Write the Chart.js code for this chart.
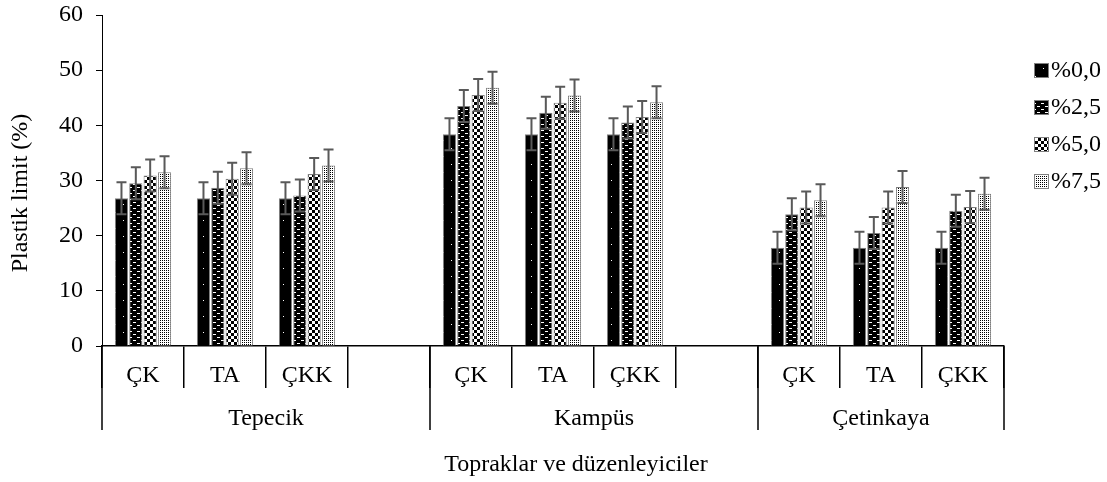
<!DOCTYPE html>
<html>
<head>
<meta charset="utf-8">
<script src="https://cdn.jsdelivr.net/npm/chart.js@4"></script>
<style>
  html, body { margin: 0; padding: 0; background: #fff; }
  #wrap { width: 1107px; height: 482px; }
</style>
</head>
<body>
<div id="wrap"><canvas id="plChart"></canvas></div>
<script>
// --- data ---
const subLabels = ["ÇK", "TA", "ÇKK", "", "ÇK", "TA", "ÇKK", "", "ÇK", "TA", "ÇKK"];
const groupNames = ["Tepecik", "Kampüs", "Çetinkaya"];
const groupSpans = [4, 4, 3];
const seriesNames = ["%0,0", "%2,5", "%5,0", "%7,5"];
const pl00 = [26.8, 26.8, 26.8, null, 38.4, 38.4, 38.4, null, 17.8, 17.8, 17.8];
const pl25 = [29.5, 28.7, 27.3, null, 43.5, 42.3, 40.5, null, 23.9, 20.5, 24.5];
const pl50 = [30.9, 30.3, 31.2, null, 45.5, 44.1, 41.5, null, 25.1, 25.1, 25.2];
const pl75 = [31.5, 32.2, 32.7, null, 46.8, 45.4, 44.2, null, 26.4, 28.8, 27.6];
const errBar = [2.9, 2.9, 2.9, null, 2.9, 2.9, 2.9, null, 2.9, 2.9, 2.9];
const yMin = 0, yMax = 60, yStep = 10;

const FONT = "'Liberation Serif', 'Times New Roman', serif";

// --- fill patterns ---
function makePattern(kind) {
  const c = document.createElement("canvas");
  const ctx = c.getContext("2d");
  if (kind === 0) {
    c.width = 16; c.height = 16;
    ctx.fillStyle = "#000"; ctx.fillRect(0, 0, 16, 16);
    ctx.fillStyle = "#fff";
    ctx.fillRect(3, 4, 1, 1);
    ctx.fillRect(11, 12, 1, 1);
  } else if (kind === 1) {
    c.width = 8; c.height = 6;
    ctx.fillStyle = "#000"; ctx.fillRect(0, 0, 8, 6);
    ctx.fillStyle = "#fff";
    ctx.fillRect(1, 1, 3, 1);
    ctx.fillRect(5, 4, 3, 1);
  } else if (kind === 2) {
    c.width = 6; c.height = 6;
    ctx.fillStyle = "#fff"; ctx.fillRect(0, 0, 6, 6);
    ctx.fillStyle = "#000";
    ctx.fillRect(0, 0, 3, 3);
    ctx.fillRect(3, 3, 3, 3);
  } else {
    c.width = 4; c.height = 4;
    ctx.fillStyle = "#fff"; ctx.fillRect(0, 0, 4, 4);
    ctx.fillStyle = "#000";
    ctx.fillRect(0, 0, 1, 1);
    ctx.fillRect(2, 0, 1, 1);
    ctx.fillRect(0, 2, 1, 1);
    ctx.fillRect(2, 2, 1, 1);
  }
  return ctx.createPattern(c, "repeat");
}
const patterns = [0, 1, 2, 3].map(makePattern);

// --- error bars + multi-level axis + legend ---
const extrasPlugin = {
  id: "extras",
  afterDatasetsDraw(chart) {
    const ctx = chart.ctx;
    const y = chart.scales.y;
    ctx.save();
    ctx.strokeStyle = "#595959";
    ctx.lineWidth = 2;
    chart.data.datasets.forEach((ds, i) => {
      const meta = chart.getDatasetMeta(i);
      meta.data.forEach((bar, j) => {
        const v = ds.data[j];
        const e = errBar[j];
        if (v == null || e == null) return;
        const top = y.getPixelForValue(v + e);
        const bot = y.getPixelForValue(v - e);
        ctx.beginPath();
        ctx.moveTo(bar.x, top); ctx.lineTo(bar.x, bot);
        ctx.moveTo(bar.x - 5, top); ctx.lineTo(bar.x + 5, top);
        ctx.moveTo(bar.x - 5, bot); ctx.lineTo(bar.x + 5, bot);
        ctx.stroke();
      });
    });
    ctx.restore();
  },
  afterDraw(chart) {
    const ctx = chart.ctx;
    const x = chart.scales.x;
    const area = chart.chartArea;
    const slot = x.getPixelForValue(1) - x.getPixelForValue(0);
    ctx.save();
    ctx.fillStyle = "#000";
    ctx.font = "24px " + FONT;
    ctx.textAlign = "center";
    ctx.textBaseline = "middle";
    subLabels.forEach((lab, i) => {
      if (lab) ctx.fillText(lab, x.getPixelForValue(i), area.bottom + 30);
    });
    // group separators and names
    ctx.strokeStyle = "#000";
    ctx.lineWidth = 1.5;
    let start = 0;
    const edges = [0];
    groupSpans.forEach((n, g) => {
      const left = x.getPixelForValue(start) - slot / 2;
      const right = x.getPixelForValue(start + n - 1) + slot / 2;
      ctx.fillText(groupNames[g], (left + right) / 2, area.bottom + 73);
      start += n;
      edges.push(start);
    });
    edges.forEach((k) => {
      const px = Math.round(x.getPixelForValue(k) - slot / 2);
      ctx.beginPath();
      ctx.moveTo(px, area.bottom);
      ctx.lineTo(px, area.bottom + 84);
      ctx.stroke();
    });
    // axis titles
    ctx.fillText("Topraklar ve düzenleyiciler", 576, 465);
    ctx.save();
    ctx.translate(21, 193);
    ctx.rotate(-Math.PI / 2);
    ctx.fillText("Plastik limit (%)", 0, 0);
    ctx.restore();
    // legend
    ctx.textAlign = "left";
    seriesNames.forEach((name, i) => {
      const cy = 70 + i * 37;
      ctx.fillStyle = patterns[i];
      ctx.fillRect(1034, cy - 7, 15, 15);
      ctx.strokeStyle = "#808080";
      ctx.lineWidth = 1;
      ctx.strokeRect(1034.5, cy - 6.5, 14, 14);
      ctx.fillStyle = "#000";
      ctx.fillText(name, 1051, cy + 1);
    });
    ctx.restore();
  }
};

const seriesData = [pl00, pl25, pl50, pl75];

function drawChart() {
  new Chart(document.getElementById("plChart"), {
    type: "bar",
    data: {
      labels: subLabels,
      datasets: seriesData.map((d, i) => ({
        label: seriesNames[i],
        data: d,
        backgroundColor: patterns[i],
        borderColor: "#808080",
        borderWidth: 1,
        categoryPercentage: 0.7,
        barPercentage: 0.92,
      })),
    },
    options: {
      responsive: true,
      maintainAspectRatio: false,
      animation: false,
      layout: { padding: { top: 15, left: 3, right: 103, bottom: 0 } },
      plugins: { legend: { display: false }, tooltip: { enabled: false } },
      scales: {
        x: {
          offset: true,
          grid: {
            display: true,
            drawOnChartArea: false,
            drawTicks: true,
            tickLength: 42,
            color: "#000",
            lineWidth: 1.5,
            offset: true,
          },
          border: { display: true, color: "#000", width: 1.5 },
          ticks: { display: false },
          afterFit: (s) => { s.height = 136; s.paddingLeft = 0; s.paddingRight = 0; },
        },
        y: {
          min: yMin,
          max: yMax,
          ticks: {
            stepSize: yStep,
            color: "#000",
            font: { family: FONT, size: 24 },
            padding: 13,
          },
          grid: {
            display: true,
            drawOnChartArea: false,
            drawTicks: true,
            tickLength: 6,
            color: "#000",
          },
          border: { display: true, color: "#000", width: 1 },
          afterFit: (s) => { s.width = 99; s.paddingTop = 0; s.paddingBottom = 0; },
        },
      },
    },
    plugins: [extrasPlugin],
  });
}

// wait for the serif font so the canvas does not fall back
document.fonts.load("24px 'Liberation Serif'").then(drawChart, drawChart);
</script>
</body>
</html>
